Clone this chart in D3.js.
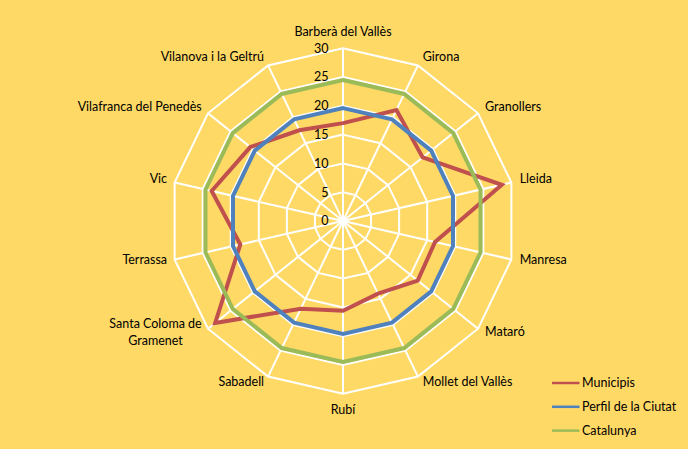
<!DOCTYPE html>
<html>
<head>
<meta charset="utf-8">
<script src="https://cdn.jsdelivr.net/npm/d3@7"></script>
<style>
  html, body { margin: 0; padding: 0; background: #FFD966; }
  svg { display: block; }
  text { font-family: Lato, "Liberation Sans", sans-serif; font-size: 12.5px; fill: #000; }
</style>
</head>
<body>
<svg id="chart"></svg>
<script>
// categories (clockwise from the top)
const categories = [
    "Barberà del Vallès", "Girona", "Granollers", "Lleida", "Manresa", "Mataró",
    "Mollet del Vallès", "Rubí", "Sabadell", "Santa Coloma de\nGramenet", "Terrassa",
    "Vic", "Vilafranca  del Penedès", "Vilanova i la Geltrú"
];
const municipis = [17.0, 21.4, 17.7, 28.3, 16.4, 16.6, 14.0, 15.6, 16.9, 28.4, 18.3, 23.4, 20.6, 17.5];
const perfil    = [19.6, 19.6, 19.6, 19.6, 19.6, 19.6, 19.6, 19.6, 19.6, 19.6, 19.6, 19.6, 19.6, 19.6];
const catalunya = [24.5, 24.5, 24.5, 24.5, 24.5, 24.5, 24.5, 24.5, 24.5, 24.5, 24.5, 24.5, 24.5, 24.5];
const seriesNames = ["Municipis", "Perfil de la Ciutat", "Catalunya"];
const ticks = [0, 5, 10, 15, 20, 25, 30];

const width = 688, height = 449;
const cx = 343, cy = 221, radius = 172.7;
const colors = ["#C0504D", "#4F81BD", "#9BBB59"];

const svg = d3.select("#chart")
    .attr("width", width)
    .attr("height", height);

svg.append("rect")
    .attr("width", width)
    .attr("height", height)
    .attr("fill", "#FFD966");

const chart = svg.append("g")
    .attr("transform", `translate(${cx}, ${cy})`);

const rscale = d3.scaleLinear()
    .domain([0, 30])
    .range([0, radius]);

const ascale = d3.scaleLinear()
    .domain([0, categories.length])
    .range([0, 2 * Math.PI]);

const idx = d3.range(categories.length);

// grid rings
const ring = d3.lineRadial()
    .angle(i => ascale(i))
    .curve(d3.curveLinearClosed);

chart.append("g")
    .selectAll("path")
    .data(ticks.filter(t => t > 0))
    .join("path")
    .attr("d", t => ring.radius(rscale(t))(idx))
    .attr("fill", "none")
    .attr("stroke", "#fff")
    .attr("stroke-width", 2);

// spokes
chart.append("g")
    .selectAll("line")
    .data(idx)
    .join("line")
    .attr("x1", 0).attr("y1", 0)
    .attr("x2", i => rscale(30) * Math.sin(ascale(i)))
    .attr("y2", i => -rscale(30) * Math.cos(ascale(i)))
    .attr("stroke", "#fff")
    .attr("stroke-width", 2);

// series
const line = d3.lineRadial()
    .angle((d, i) => ascale(i))
    .radius(d => rscale(d))
    .curve(d3.curveLinearClosed);

chart.append("g")
    .selectAll("path")
    .data([municipis, perfil, catalunya])
    .join("path")
    .attr("d", d => line(d))
    .attr("fill", "none")
    .attr("stroke", (d, i) => colors[i])
    .attr("stroke-width", 4)
    .attr("stroke-linejoin", "miter");

// value axis labels
chart.append("g")
    .selectAll("text")
    .data(ticks)
    .join("text")
    .attr("x", -14.5)
    .attr("y", t => -rscale(t))
    .attr("dy", "0.35em")
    .attr("text-anchor", "end")
    .text(t => t);

// category labels
const lineH = 17;
const labels = chart.append("g");
categories.forEach((name, i) => {
    const a = ascale(i), s = Math.sin(a), c = Math.cos(a);
    const vx = rscale(30) * s, vy = -rscale(30) * c;
    const lines = name.split("\n");
    const t = labels.append("text");
    if (Math.abs(s) < 0.1) {
        t.attr("text-anchor", "middle")
            .attr("x", vx)
            .attr("y", vy + 3.7 - 16.3 * c)
            .text(name);
        return;
    }
    const sign = s > 0 ? 1 : -1;
    const dx = sign * (2 + 6.5 * Math.abs(s) - (s < 0 ? 0.8 : 0));
    const base = vy + 2.5 - 8 * c;
    if (lines.length === 1) {
        t.attr("text-anchor", s > 0 ? "start" : "end")
            .attr("x", vx + dx)
            .attr("y", base)
            .text(name);
    } else {
        t.attr("text-anchor", "middle");
        const spans = lines.map((l, k) => t.append("tspan")
            .attr("y", base - (lines.length - 1) * lineH / 2 + k * lineH)
            .text(l));
        const w = d3.max(spans, sp => sp.node().getComputedTextLength());
        spans.forEach(sp => sp.attr("x", vx + dx + sign * w / 2));
    }
});

// legend
const legend = svg.append("g")
    .attr("transform", "translate(552, 383)");

const item = legend.selectAll("g")
    .data(seriesNames)
    .join("g")
    .attr("transform", (d, i) => `translate(0, ${i * 23.8})`);

item.append("line")
    .attr("x1", 0).attr("x2", 27.5)
    .attr("y1", 0).attr("y2", 0)
    .attr("stroke", (d, i) => colors[i])
    .attr("stroke-width", 2.5);

item.append("text")
    .attr("x", 30)
    .attr("y", 0)
    .attr("dy", "0.35em")
    .text(d => d);
</script>
</body>
</html>
